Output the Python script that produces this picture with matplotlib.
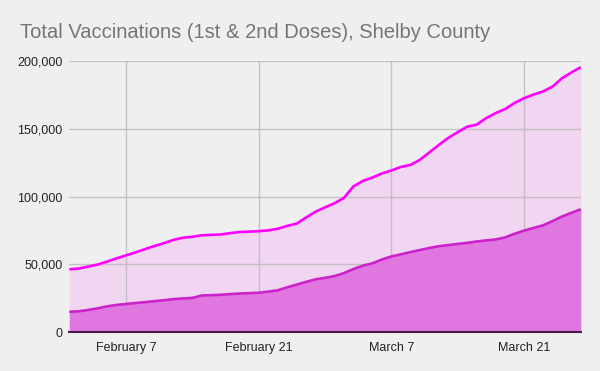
import matplotlib
matplotlib.use("Agg")
import matplotlib.pyplot as plt
import numpy as np
import pandas as pd

dates = pd.date_range("2021-02-01", "2021-03-27", freq="D")

total_doses = [
    46.3, 46.9, 48.3, 49.8, 52.0, 54.4, 56.6, 58.8, 61.2, 63.5,
    65.6, 68.0, 69.6, 70.3, 71.4, 71.7, 72.0, 73.0, 73.8, 74.1,
    74.4, 75.0, 76.2, 78.3, 80.0, 84.5, 88.8, 92.0, 95.0, 99.0,
    107.5, 111.5, 114.0, 117.0, 119.2, 121.8, 123.3, 127.0, 132.5, 138.0,
    143.2, 147.5, 151.5, 153.0, 157.8, 161.5, 164.5, 169.0, 172.5, 175.2,
    177.5, 181.0, 187.2, 191.5, 195.5,
]
second_doses = [
    15.0, 15.3, 16.3, 17.5, 19.0, 20.0, 20.7, 21.4, 22.1, 22.8,
    23.5, 24.3, 24.8, 25.2, 27.0, 27.2, 27.5, 28.0, 28.4, 28.7,
    29.0, 29.8, 30.8, 33.0, 35.0, 37.0, 38.9, 40.0, 41.3, 43.5,
    46.5, 49.0, 50.7, 53.5, 55.8, 57.3, 59.0, 60.5, 62.0, 63.3,
    64.2, 65.0, 65.8, 66.8, 67.6, 68.3, 69.8, 72.5, 74.8, 76.8,
    78.7, 81.8, 85.2, 88.0, 90.6,
]
total_doses = np.array(total_doses) * 1000
second_doses = np.array(second_doses) * 1000

title = "Total Vaccinations (1st & 2nd Doses), Shelby County"
y_ticks = [0, 50000, 100000, 150000, 200000]
x_ticks = pd.to_datetime(["2021-02-07", "2021-02-21", "2021-03-07", "2021-03-21"])
x_labels = ["February 7", "February 21", "March 7", "March 21"]

plt.rcParams["font.family"] = ["Liberation Sans", "DejaVu Sans"]

bg = "#efefef"
fig = plt.figure(figsize=(6, 3.71), dpi=100, facecolor=bg)
ax = fig.add_axes([0.1155, 0.105, 0.8525, 0.7306])
ax.set_facecolor(bg)

ax.fill_between(dates, 0, total_doses, color="#f1d6f1", linewidth=0, zorder=2)
ax.fill_between(dates, 0, second_doses, color="#e077e0", linewidth=0, zorder=3)
ax.plot(dates, total_doses, color="#ff00ff", linewidth=1.9, zorder=5,
        solid_capstyle="butt")
ax.plot(dates, second_doses, color="#cc22cc", linewidth=1.9, zorder=5,
        solid_capstyle="butt")

ax.set_xlim(dates[0], dates[-1])
ax.set_ylim(0, 200000)
ax.set_yticks(y_ticks)
ax.set_yticklabels([f"{v:,}" for v in y_ticks])
ax.set_xticks(x_ticks)
ax.set_xticklabels(x_labels)

ax.grid(True, color="#b7b7b7", linewidth=1.0, zorder=4)
ax.set_axisbelow(False)
for line in ax.get_xgridlines() + ax.get_ygridlines():
    line.set_zorder(4)
    line.set_alpha(0.75)

for s in ["top", "right", "left"]:
    ax.spines[s].set_visible(False)
ax.spines["bottom"].set_color("#4d1a4d")
ax.spines["bottom"].set_linewidth(1.5)
ax.spines["bottom"].set_zorder(6)

ax.tick_params(axis="both", length=0, labelsize=9, colors="#222222")
ax.tick_params(axis="y", pad=5)
ax.tick_params(axis="x", pad=7)

fig.text(20 / 600, 1 - 32 / 371, title, fontsize=14.5, color="#757575",
         ha="left", va="center")

fig.savefig("out.png", dpi=100, facecolor=bg)
